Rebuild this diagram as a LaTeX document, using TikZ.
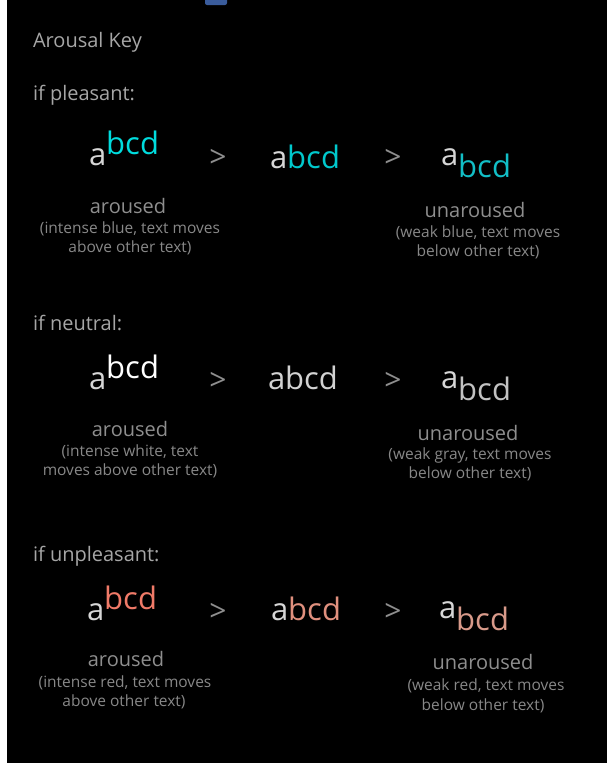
\documentclass[tikz,border=0pt]{standalone}
\usepackage{fontspec}
\setmainfont{Open Sans}
\definecolor{panel}{HTML}{000000}
\definecolor{tab}{HTML}{3A5C9C}
\definecolor{headgray}{HTML}{A6A6A6}
\definecolor{labelgray}{HTML}{8E8E8E}
\definecolor{notegray}{HTML}{888888}
\definecolor{basegray}{HTML}{D6D6D6}
\definecolor{blueI}{HTML}{00DCDE}
\definecolor{blueM}{HTML}{00C8CC}
\definecolor{blueW}{HTML}{12BEC6}
\definecolor{whiteI}{HTML}{FFFFFF}
\definecolor{grayM}{HTML}{D2D2D2}
\definecolor{grayW}{HTML}{C2C2C2}
\definecolor{redI}{HTML}{F07A68}
\definecolor{redM}{HTML}{E0907E}
\definecolor{redW}{HTML}{D89A8A}
\tikzset{
  x=1pt, y=-1pt,
  every node/.style={inner sep=0pt, outer sep=0pt},
  heading/.style={anchor=base west, text=headgray, font=\fontsize{20}{24}\selectfont},
  glyphs/.style={anchor=base west, font=\fontsize{31}{36}\selectfont},
  gt/.style={anchor=base, text=labelgray, font=\fontsize{30}{36}\selectfont},
  state/.style={anchor=base, text=labelgray, font=\fontsize{20}{24}\selectfont},
  note/.style={anchor=base, text=notegray, font=\fontsize{15.5}{19}\selectfont},
}
\newcommand{\up}[2]{\textcolor{basegray}{a}\raisebox{11pt}{\textcolor{#1}{#2}}}
\newcommand{\down}[2]{\textcolor{basegray}{a}\raisebox{-12pt}{\textcolor{#1}{#2}}}
\begin{document}
\begin{tikzpicture}
\useasboundingbox (0,0) rectangle (607,763);
\fill[white] (0,0) rectangle (607,763);
\fill[panel] (7,0) rectangle (607,763);
\fill[tab, rounded corners=2pt] (205,-3) rectangle (227,5);

\node[heading] (title) at (33,47) {Arousal Key};

% pleasant
\node[heading] (hp) at (33,100) {if pleasant:};
\node[glyphs] (p1) at (89,165) {\up{blueI}{bcd}};
\node[gt] (pg1) at (218,167) {>};
\node[glyphs] (p2) at (270,168) {\textcolor{basegray}{a}\textcolor{blueM}{bcd}};
\node[gt] (pg2) at (393,167) {>};
\node[glyphs] (p3) at (441,165) {\down{blueW}{bcd}};
\node[state] (pa) at (128,213) {aroused};
\node[note] (pa1) at (130,233) {(intense blue, text moves};
\node[note] (pa2) at (130,252) {above other text)};
\node[state] (pu) at (475,217) {unaroused};
\node[note] (pu1) at (478,237) {(weak blue, text moves};
\node[note] (pu2) at (478,256) {below other text)};

% neutral
\node[heading] (hn) at (33,330) {if neutral:};
\node[glyphs] (n1) at (89,389) {\up{whiteI}{bcd}};
\node[gt] (ng1) at (218,390) {>};
\node[glyphs] (n2) at (268,389) {\textcolor{grayM}{abcd}};
\node[gt] (ng2) at (393,390) {>};
\node[glyphs] (n3) at (441,388) {\down{grayW}{bcd}};
\node[state] (na) at (130,436) {aroused};
\node[note] (na1) at (130,456) {(intense white, text};
\node[note] (na2) at (130,475) {moves above other text)};
\node[state] (nu) at (468,440) {unaroused};
\node[note] (nu1) at (470,459) {(weak gray, text moves};
\node[note] (nu2) at (470,478) {below other text)};

% unpleasant
\node[heading] (hu) at (33,561) {if unpleasant:};
\node[glyphs] (u1) at (87,620) {\up{redI}{bcd}};
\node[gt] (ug1) at (218,621) {>};
\node[glyphs] (u2) at (271,620) {\textcolor{basegray}{a}\textcolor{redM}{bcd}};
\node[gt] (ug2) at (393,621) {>};
\node[glyphs] (u3) at (439,618) {\down{redW}{bcd}};
\node[state] (ua) at (126,666) {aroused};
\node[note] (ua1) at (125,687) {(intense red, text moves};
\node[note] (ua2) at (124,706) {above other text)};
\node[state] (uu) at (483,669) {unaroused};
\node[note] (uu1) at (486,690) {(weak red, text moves};
\node[note] (uu2) at (483,710) {below other text)};
\end{tikzpicture}
\end{document}
